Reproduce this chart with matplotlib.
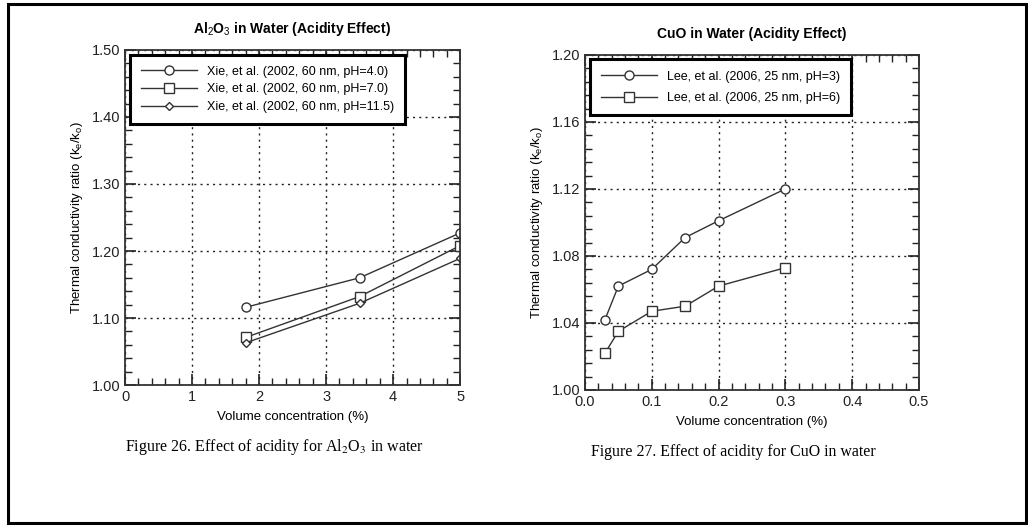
import numpy as np
import matplotlib
matplotlib.use('Agg')
import matplotlib.pyplot as plt
from matplotlib.patches import Rectangle
from matplotlib.ticker import MultipleLocator

plt.rcParams['font.family'] = ['Liberation Sans', 'DejaVu Sans']
plt.rcParams['mathtext.fontset'] = 'custom'
plt.rcParams['mathtext.rm'] = 'Liberation Sans'
plt.rcParams['mathtext.it'] = 'Liberation Sans'

# Al2O3 data (Xie et al. 2002)
al_x = [1.8, 3.5, 5.0]
al_ph4 = [1.116, 1.160, 1.227]
al_ph7 = [1.071, 1.132, 1.208]
al_ph115 = [1.063, 1.122, 1.189]
al_labels = ['Xie, et al. (2002, 60 nm, pH=4.0)',
             'Xie, et al. (2002, 60 nm, pH=7.0)',
             'Xie, et al. (2002, 60 nm, pH=11.5)']

# CuO data (Lee et al. 2006)
cu_x = [0.03, 0.05, 0.1, 0.15, 0.2, 0.3]
cu_ph3 = [1.042, 1.062, 1.072, 1.091, 1.101, 1.120]
cu_ph6 = [1.022, 1.035, 1.047, 1.050, 1.062, 1.073]
cu_labels = ['Lee, et al. (2006, 25 nm, pH=3)',
             'Lee, et al. (2006, 25 nm, pH=6)']

fig = plt.figure(figsize=(10.28, 5.26), dpi=100)
fig.patches.append(Rectangle((8/1028, 3/526), 1018/1028, 519/526, transform=fig.transFigure,
                             fill=False, edgecolor='black', linewidth=2.2))

ax1 = fig.add_axes([0.1216, 0.268, 0.326, 0.637])
ax2 = fig.add_axes([0.569, 0.2586, 0.325, 0.637])

lc = '#333333'
mk = dict(markerfacecolor='white', markeredgecolor=lc, color=lc, linewidth=1.0, markeredgewidth=1.0)

ax1.plot(al_x, al_ph4, marker='o', markersize=6.5, label=al_labels[0], **mk)
ax1.plot(al_x, al_ph7, marker='s', markersize=6.5, label=al_labels[1], **mk)
ax1.plot(al_x, al_ph115, marker='D', markersize=4.5, label=al_labels[2], **mk)
ax1.set_xlim(0, 5)
ax1.set_ylim(1.0, 1.5)
ax1.xaxis.set_major_locator(MultipleLocator(1))
ax1.xaxis.set_minor_locator(MultipleLocator(0.2))
ax1.yaxis.set_major_locator(MultipleLocator(0.1))
ax1.yaxis.set_minor_locator(MultipleLocator(0.02))
ax1.set_yticklabels([f'{v:.2f}' for v in ax1.get_yticks()])
ax1.set_title('Al$_2$O$_3$ in Water (Acidity Effect)', fontsize=10, fontweight='bold', pad=12)

ax2.plot(cu_x, cu_ph3, marker='o', markersize=6.5, label=cu_labels[0], **mk)
ax2.plot(cu_x, cu_ph6, marker='s', markersize=6.5, label=cu_labels[1], **mk)
ax2.set_xlim(0, 0.5)
ax2.set_ylim(1.0, 1.2)
ax2.xaxis.set_major_locator(MultipleLocator(0.1))
ax2.xaxis.set_minor_locator(MultipleLocator(0.02))
ax2.yaxis.set_major_locator(MultipleLocator(0.04))
ax2.yaxis.set_minor_locator(MultipleLocator(0.008))
ax2.set_yticklabels([f'{v:.2f}' for v in ax2.get_yticks()])
ax2.set_xticklabels([f'{v:.1f}' for v in ax2.get_xticks()])
ax2.set_title('CuO in Water (Acidity Effect)', fontsize=10, fontweight='bold', pad=12)

for ax, sp in ((ax1, 0.45), (ax2, 0.75)):
    ax.grid(True, which='major', linestyle=(0, (1.5, 3)), color='#222222', linewidth=1.0)
    ax.tick_params(which='both', direction='in', top=True, right=True, labelsize=10.5, colors='#222222')
    ax.tick_params(which='major', length=8, width=1.2)
    ax.tick_params(which='minor', length=5, width=1.0)
    for s in ax.spines.values():
        s.set_linewidth(1.3)
        s.set_color('#333333')
    ax.set_xlabel('Volume concentration (%)', fontsize=9.5, labelpad=5)
    ax.set_ylabel('Thermal conductivity ratio (k$_e$/k$_o$)', fontsize=9.5, labelpad=5)
    leg = ax.legend(loc='upper left', bbox_to_anchor=(-0.005, 1.005), fontsize=9,
                    frameon=True, fancybox=False, edgecolor='black', framealpha=1,
                    handlelength=4.5, borderpad=0.9, labelspacing=sp)
    leg.get_frame().set_linewidth(2.2)

fig.text(0.267, 0.143, 'Figure 26. Effect of acidity for Al$_2$O$_3$ in water', fontsize=11.5,
         family='Liberation Serif', ha='center', math_fontfamily='stix')
fig.text(0.7135, 0.133, 'Figure 27. Effect of acidity for CuO in water', fontsize=11.4,
         family='Liberation Serif', ha='center')

fig.savefig('out.png', dpi=100)
